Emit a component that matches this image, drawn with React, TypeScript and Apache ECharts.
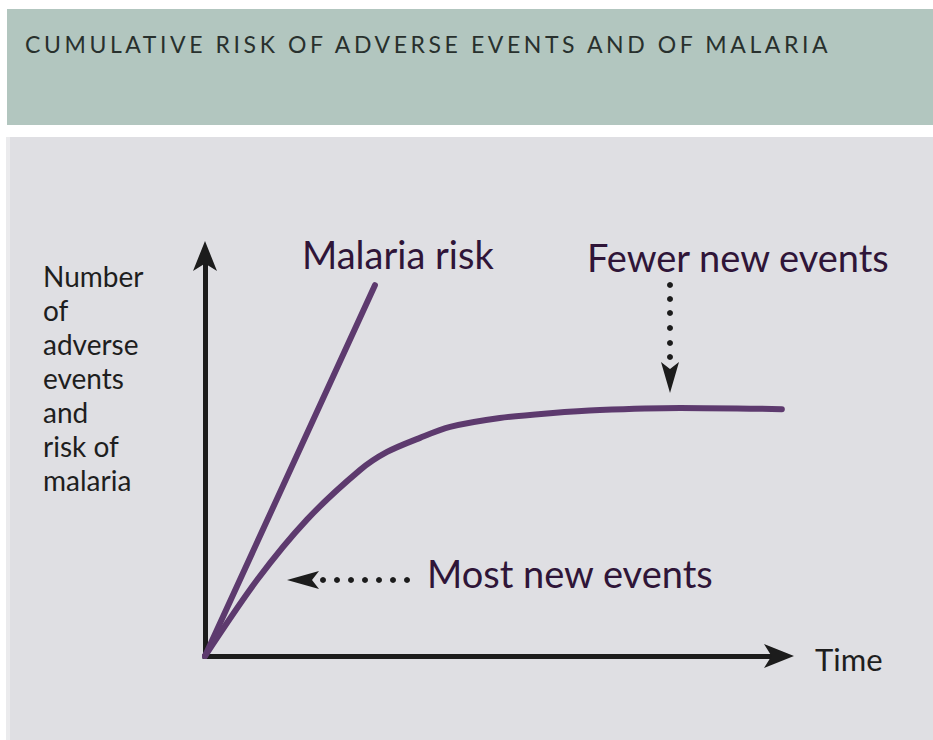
import React, { useEffect, useRef } from "react";
import * as echarts from "echarts";

// ---- data (x: time 0..100, y: cumulative count 0..100) ----
const timeAxisRange = [0, 100];
const countAxisRange = [0, 100];
const malariaRisk: [number, number][] = [
  [0, 0],
  [29.4, 91.8],
];
const adverseEvents: [number, number][] = [
  [0, 0],
  [9.0, 18.8],
  [17.6, 33.7],
  [26.8, 46.0],
  [31.5, 50.5],
  [37.2, 54.0],
  [42.4, 56.7],
  [51.0, 58.9],
  [59.7, 60.1],
  [68.3, 60.9],
  [82.2, 61.4],
  [99.8, 61.1],
];
const TITLE = "CUMULATIVE RISK OF ADVERSE EVENTS AND OF MALARIA";
const Y_LABEL = "Number\nof\nadverse\nevents\nand\nrisk of\nmalaria";
const X_LABEL = "Time";
const LABEL_MALARIA = "Malaria risk";
const LABEL_FEWER = "Fewer new events";
const LABEL_MOST = "Most new events";

const FONT = "Lato, 'Open Sans', sans-serif";
const TITLE_FONT = `23px ${FONT}`;
const LINE_COLOR = "#5d3a6e";
const TEXT_PURPLE = "#2f1538";
const INK = "#1c1c1c";

function dots(xs: number[], ys: number[]) {
  const out: any[] = [];
  for (let i = 0; i < xs.length; i++) {
    out.push({
      type: "circle",
      z: 20,
      shape: { cx: xs[i], cy: ys[i], r: 3 },
      style: { fill: INK },
    });
  }
  return out;
}

export default function App() {
  const ref = useRef<HTMLDivElement>(null);
  useEffect(() => {
    if (!ref.current) return;
    const chart = echarts.init(ref.current, undefined, { renderer: "svg" });
    const axisLine = {
      show: true,
      symbol: ["none", "arrow"],
      symbolSize: [18, 30],
      symbolOffset: [0, 11],
      lineStyle: { color: INK, width: 5, cap: "square" },
    };
    const option: any = {
      animation: false,
      backgroundColor: "#ffffff",
      grid: { left: 205, top: 252, right: 150, bottom: 84 },
      xAxis: {
        type: "value",
        min: timeAxisRange[0],
        max: timeAxisRange[1],
        axisLine,
        axisTick: { show: false },
        axisLabel: { show: false },
        splitLine: { show: false },
      },
      yAxis: {
        type: "value",
        min: countAxisRange[0],
        max: countAxisRange[1],
        axisLine,
        axisTick: { show: false },
        axisLabel: { show: false },
        splitLine: { show: false },
      },
      series: [
        {
          name: "Malaria risk",
          type: "line",
          data: malariaRisk,
          showSymbol: false,
          symbol: "none",
          lineStyle: { color: LINE_COLOR, width: 6, cap: "round" },
          z: 5,
        },
        {
          name: "Adverse events",
          type: "line",
          data: adverseEvents,
          smooth: 0.3,
          showSymbol: false,
          symbol: "none",
          lineStyle: { color: LINE_COLOR, width: 6, cap: "round" },
          z: 5,
        },
      ],
      graphic: [
        {
          type: "rect",
          z: -10,
          silent: true,
          shape: { x: 7, y: 9, width: 926, height: 116 },
          style: { fill: "#b2c6bf" },
        },
        {
          type: "rect",
          z: -10,
          silent: true,
          shape: { x: 6, y: 137, width: 927, height: 603 },
          style: { fill: "#ebebed" },
        },
        {
          type: "rect",
          z: -9,
          silent: true,
          shape: { x: 10, y: 137, width: 923, height: 603 },
          style: { fill: "#dfdfe3" },
        },
        {
          type: "text",
          z: 20,
          x: 25,
          y: 44,
          style: {
            text: TITLE,
            font: TITLE_FONT,
            fill: "#28302d",
            textVerticalAlign: "middle",
          },
        },
        {
          type: "text",
          z: 20,
          x: 43,
          y: 259,
          style: {
            text: Y_LABEL,
            font: `28px ${FONT}`,
            fill: "#1e1e1e",
            lineHeight: 34,
            textVerticalAlign: "top",
          },
        },
        {
          type: "text",
          z: 20,
          x: 815,
          y: 659,
          style: {
            text: X_LABEL,
            font: `31px ${FONT}`,
            fill: "#1e1e1e",
            textVerticalAlign: "middle",
          },
        },
        {
          type: "text",
          z: 20,
          x: 302,
          y: 254,
          style: {
            text: LABEL_MALARIA,
            font: `38px ${FONT}`,
            fill: TEXT_PURPLE,
            textVerticalAlign: "middle",
          },
        },
        {
          type: "text",
          z: 20,
          x: 587,
          y: 257,
          style: {
            text: LABEL_FEWER,
            font: `38px ${FONT}`,
            fill: TEXT_PURPLE,
            textVerticalAlign: "middle",
          },
        },
        {
          type: "text",
          z: 20,
          x: 427,
          y: 573,
          style: {
            text: LABEL_MOST,
            font: `38px ${FONT}`,
            fill: TEXT_PURPLE,
            textVerticalAlign: "middle",
          },
        },
        // "Most new events" dotted arrow pointing left
        ...dots([323, 337, 351, 365, 379, 393, 407], [580, 580, 580, 580, 580, 580, 580]),
        {
          type: "polygon",
          z: 20,
          shape: { points: [[287, 580], [319, 571], [312, 580], [319, 589]] },
          style: { fill: INK },
        },
        // "Fewer new events" dotted arrow pointing down
        ...dots([670, 670, 670, 670, 670, 670], [285, 299, 313, 328, 343, 357]),
        {
          type: "polygon",
          z: 20,
          shape: { points: [[670, 393], [661, 362], [670, 369], [679, 362]] },
          style: { fill: INK },
        },
      ],
    };
    chart.setOption(option);

    // widen the title's letter spacing, as in the reference header
    const applySpacing = () => {
      const root = ref.current;
      if (!root) return;
      const c = document.createElement("canvas").getContext("2d");
      if (!c) return;
      c.font = TITLE_FONT;
      const w = c.measureText(TITLE).width;
      const spacing = Math.max(0, (805 - w) / (TITLE.length - 1));
      root.querySelectorAll("text").forEach((t) => {
        if (t.textContent === TITLE) {
          (t as SVGTextElement).style.letterSpacing = spacing.toFixed(2) + "px";
        }
      });
    };
    applySpacing();
    chart.on("finished", applySpacing);
    const timer = setTimeout(applySpacing, 50);
    return () => {
      clearTimeout(timer);
      chart.dispose();
    };
  }, []);
  return (
    <div
      ref={ref}
      style={{ position: "fixed", left: 0, top: 0, width: 933, height: 740 }}
    />
  );
}
